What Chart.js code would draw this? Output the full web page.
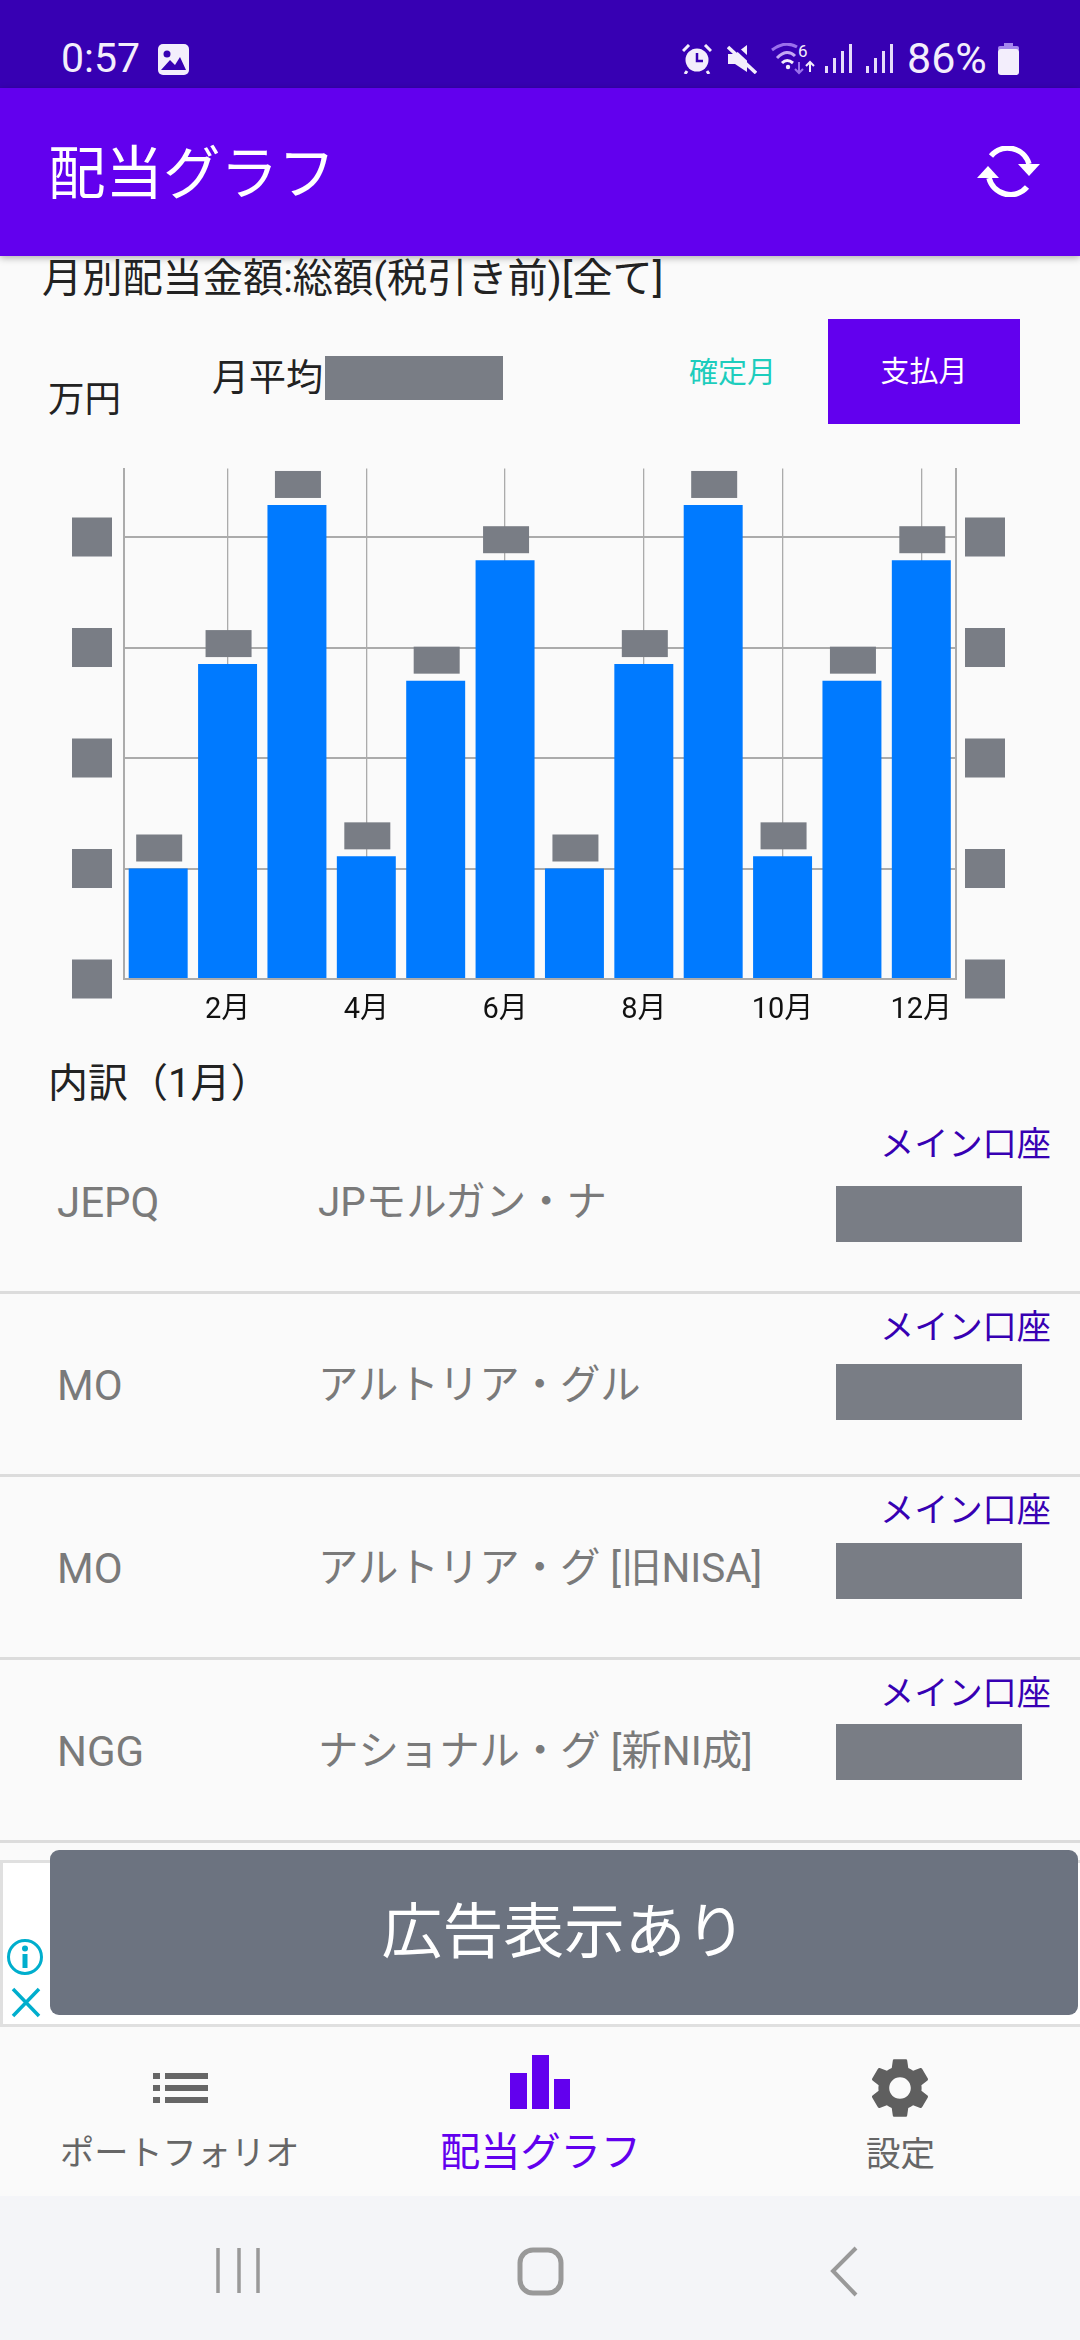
<!DOCTYPE html>
<html lang="ja">
<head>
<meta charset="utf-8">
<title>配当グラフ</title>
<script src="https://cdn.jsdelivr.net/npm/chart.js@4"></script>
<style>
html, body { margin: 0; padding: 0; }
body { width: 1080px; height: 2340px; background: #fafafa; position: relative; overflow: hidden;
       font-family: Roboto, "Noto Sans CJK JP", sans-serif; }
.abs { position: absolute; white-space: nowrap; }
.redact { position: absolute; background: #797d85; }
#status { left: 0; top: 0; width: 1080px; height: 88px; background: #3700b3; }
#appbar { left: 0; top: 88px; width: 1080px; height: 168px; background: #6200ee; box-shadow: 0 2px 7px rgba(0,0,0,.3); }
#row-list { position: absolute; left: 0; top: 1111px; width: 1080px; }
.row { position: relative; height: 180px; border-bottom: 3px solid #dcdcdc; }
.row .account { position: absolute; right: 29px; top: 13px; font-size: 34.2px; line-height: 40px; color: #3700b3; }
.row .ticker { position: absolute; left: 57px; top: 66px; font-size: 42px; line-height: 52px; color: #7a7a7a; }
.row .name { position: absolute; left: 318px; top: 66px; font-size: 40.4px; line-height: 52px; color: #7a7a7a; white-space: nowrap; }
.row .redact { left: 836px; width: 186px; height: 56px; }
.row:nth-child(1) .redact { top: 75px; }
.row:nth-child(2) .redact { top: 70px; }
.row:nth-child(3) .redact { top: 66px; height: 56px; }
.row:nth-child(4) .redact { top: 64px; height: 56px; }
#ad { left: 0; top: 1860px; width: 1077px; height: 161px; background: #fff; border: solid #e0e0e0; border-width: 3px 0 3px 3px; }
#ad-cover { left: 50px; top: 1850px; width: 1028px; height: 165px; background: #6c7380; border-radius: 9px;
            color: #fff; font-size: 60.8px; line-height: 165px; text-align: center; }
#bottom { left: 0; top: 2027px; width: 1080px; height: 169px; background: #fafafa; }
#nav { left: 0; top: 2196px; width: 1080px; height: 144px; background: #f4f5f8; }
svg { position: absolute; }
canvas { position: absolute; left: 40px; top: 450px; }
</style>
</head>
<body>
<div class="abs" id="status"></div>
<div class="abs" id="appbar"></div>

<div class="abs" style="left:61px;top:34px;font-size:41px;line-height:48px;color:#f3eefc">0:57</div>
<svg style="left:158px;top:44px" width="31" height="31" viewBox="0 0 31 31">
  <rect width="31" height="31" rx="5" fill="#f3eefc"/>
  <circle cx="9" cy="10" r="3.5" fill="#3700b3"/>
  <path d="M3 26 L12 16 L17 21 L22 13 L28 26 Z" fill="#3700b3"/>
</svg>
<!-- alarm -->
<svg style="left:682px;top:44px" width="30" height="30" viewBox="0 0 30 30">
  <circle cx="15" cy="16" r="11.5" fill="#f3eefc"/>
  <path d="M15 9 V17 H21" fill="none" stroke="#3700b3" stroke-width="2.5"/>
  <path d="M1 7 L7 1 M29 7 L23 1 M5 27 L3 30 M25 27 L27 30" stroke="#f3eefc" stroke-width="3"/>
</svg>
<!-- mute -->
<svg style="left:727px;top:44px" width="30" height="30" viewBox="0 0 30 30">
  <path d="M1 10 H8 L20 1 V28 L8 20 H1 Z" fill="#f3eefc"/>
  <path d="M5 0 L31 24" stroke="#3700b3" stroke-width="4"/>
  <path d="M1 3 L29 29" stroke="#f3eefc" stroke-width="3.5"/>
</svg>
<!-- wifi -->
<svg style="left:771px;top:43px" width="46" height="34" viewBox="0 0 46 34">
  <path d="M1 7 Q14 -3 26 4" fill="none" stroke="#9a70ec" stroke-width="3"/>
  <path d="M6 15 Q16 5 24 13" fill="none" stroke="#c3a8f4" stroke-width="3"/>
  <path d="M11 20 Q16 15 22 20" fill="none" stroke="#f3eefc" stroke-width="3"/>
  <circle cx="17" cy="24" r="2.2" fill="#f3eefc"/>
  <path d="M28 19 V30 M24 26 L28 30 L32 26" fill="none" stroke="#9a70ec" stroke-width="2"/>
  <path d="M39 29 V19 M35 23 L39 19 L43 23" fill="none" stroke="#f3eefc" stroke-width="2"/>
  <text x="27" y="14" font-size="17" font-family="Roboto" fill="#f3eefc">6</text>
</svg>
<!-- signal bars -->
<svg style="left:823px;top:44px" width="72" height="30" viewBox="0 0 72 30" fill="#e6dcfa">
  <rect x="2" y="22" width="3" height="7"/><rect x="10" y="14" width="3" height="15"/><rect x="18" y="7" width="3" height="22"/><rect x="26" y="0" width="3" height="29"/>
  <rect x="43" y="22" width="3" height="7"/><rect x="51" y="14" width="3" height="15"/><rect x="59" y="7" width="3" height="22"/><rect x="67" y="0" width="3" height="29"/>
</svg>
<div class="abs" style="left:907px;top:34px;font-size:43px;line-height:48px;color:#f3eefc">86%</div>
<svg style="left:998px;top:43px" width="21" height="32" viewBox="0 0 21 32">
  <rect x="6" y="0" width="9" height="5" fill="#a586ee"/>
  <rect x="0" y="3" width="21" height="5" rx="2" fill="#a586ee"/>
  <rect x="0" y="6" width="21" height="26" rx="3" fill="#f3eefc"/>
</svg>

<div class="abs" style="left:48px;top:137px;font-size:57.5px;line-height:76px;color:#fff">配当グラフ</div>
<!-- refresh -->
<svg style="left:977px;top:146px" width="64" height="51" viewBox="0 0 64 51">
  <path d="M14 10 A22 22 0 0 1 52 18" fill="none" stroke="#fff" stroke-width="5.5"/>
  <path d="M41 18 H63 L52 30 Z" fill="#fff"/>
  <path d="M50 41 A22 22 0 0 1 12 32" fill="none" stroke="#fff" stroke-width="5.5"/>
  <path d="M0 32 H22 L11 20 Z" fill="#fff"/>
</svg>

<div class="abs" style="left:42px;top:254px;font-size:40.2px;line-height:50px;color:#222">月別配当金額:総額(税引き前)[全て]</div>
<div class="abs" style="left:48px;top:376px;font-size:36.5px;line-height:48px;color:#222">万円</div>
<div class="abs" style="left:212px;top:355px;font-size:37px;line-height:48px;color:#222">月平均</div>
<div class="redact" style="left:325px;top:356px;width:178px;height:44px"></div>
<div class="abs" style="left:689px;top:354px;font-size:29px;line-height:38px;color:#1dcdbd">確定月</div>
<div class="abs" style="left:828px;top:319px;width:192px;height:105px;background:#6200ee;color:#fff;font-size:29px;line-height:107px;text-align:center">支払月</div>

<canvas id="dividend-chart" width="1000" height="590"></canvas>

<div class="abs" style="left:48px;top:1059px;font-size:40px;line-height:50px;color:#222">内訳（1月）</div>
<div id="row-list"></div>

<div class="abs" id="ad"></div>
<svg style="left:6px;top:1938px" width="38" height="80" viewBox="0 0 38 80">
  <circle cx="19" cy="19" r="16.5" fill="none" stroke="#00aecd" stroke-width="3"/>
  <rect x="16.5" y="16" width="5" height="14" fill="#00aecd"/>
  <circle cx="19" cy="10.5" r="3" fill="#00aecd"/>
  <path d="M7 51 L33 78 M33 51 L7 78" stroke="#00aecd" stroke-width="3.5"/>
</svg>
<div class="abs" id="ad-cover">広告表示あり</div>

<div class="abs" id="bottom"></div>
<div class="abs" id="nav"></div>
<svg style="left:153px;top:2073px" width="55" height="30" fill="#666">
  <rect x="0" y="0" width="7" height="6"/><rect x="12" y="0" width="43" height="6"/>
  <rect x="0" y="12" width="7" height="6"/><rect x="12" y="12" width="43" height="6"/>
  <rect x="0" y="24" width="7" height="6"/><rect x="12" y="24" width="43" height="6"/>
</svg>
<svg style="left:510px;top:2055px" width="60" height="54" fill="#6200ee">
  <rect x="0" y="18" width="17" height="36"/><rect x="22" y="0" width="17" height="54"/><rect x="44" y="24" width="16" height="30"/>
</svg>
<svg style="left:864px;top:2052px" width="72" height="72" viewBox="0 0 24 24" fill="#5f5f5f">
  <path d="M19.14 12.94c.04-.3.06-.61.06-.94 0-.32-.02-.64-.07-.94l2.03-1.58c.18-.14.23-.41.12-.61l-1.92-3.32c-.12-.22-.37-.29-.59-.22l-2.39.96c-.5-.38-1.03-.7-1.62-.94l-.36-2.54c-.04-.24-.24-.41-.48-.41h-3.84c-.24 0-.43.17-.47.41l-.36 2.54c-.59.24-1.13.57-1.62.94l-2.39-.96c-.22-.08-.47 0-.59.22L2.74 8.87c-.12.21-.08.47.12.61l2.03 1.58c-.05.3-.09.63-.09.94s.02.64.07.94l-2.03 1.58c-.18.14-.23.41-.12.61l1.92 3.32c.12.22.37.29.59.22l2.39-.96c.5.38 1.03.7 1.62.94l.36 2.54c.05.24.24.41.48.41h3.84c.24 0 .44-.17.47-.41l.36-2.54c.59-.24 1.13-.56 1.62-.94l2.39.96c.22.08.47 0 .59-.22l1.92-3.32c.12-.22.07-.47-.12-.61l-2.01-1.58zM12 15.6c-1.98 0-3.6-1.62-3.6-3.6s1.62-3.6 3.6-3.6 3.6 1.62 3.6 3.6-1.62 3.6-3.6 3.6z"/>
</svg>
<div class="abs" style="left:60px;top:2130px;font-size:34.2px;line-height:46px;color:#666">ポートフォリオ</div>
<div class="abs" style="left:440px;top:2128px;font-size:40.2px;line-height:50px;color:#6200ee">配当グラフ</div>
<div class="abs" style="left:866px;top:2131px;font-size:34.5px;line-height:46px;color:#666">設定</div>

<svg style="left:210px;top:2240px" width="660" height="64" fill="none" stroke="#999">
  <path d="M8 8 V53 M29 8 V53 M48 8 V53" stroke-width="3.5"/>
  <rect x="310" y="10" width="41" height="43" rx="13" stroke-width="5"/>
  <path d="M646 8 L623 31 L646 55" stroke-width="4"/>
</svg>

<script>
const months = ['1月', '2月', '3月', '4月', '5月', '6月', '7月', '8月', '9月', '10月', '11月', '12月'];
// amounts are masked in the picture, so values are in grid steps
const dividends = [1.0, 2.85, 4.29, 1.11, 2.7, 3.79, 1.0, 2.85, 4.29, 1.11, 2.7, 3.79];
const yTicks = [0, 1, 2, 3, 4];
const yMax = 4.62;

const tickers = ['JEPQ', 'MO', 'MO', 'NGG'];
const names = ['JPモルガン・ナ', 'アルトリア・グル', 'アルトリア・グ [旧NISA]', 'ナショナル・グ [新NI成]'];

const gridColor = '#ababab';
const maskColor = '#797d85';

// list rows under the chart
const rowList = document.getElementById('row-list');
tickers.forEach((ticker, i) => {
    const row = document.createElement('div');
    row.className = 'row';
    row.innerHTML = '<div class="account">メイン口座</div>' +
        '<div class="ticker">' + ticker + '</div>' +
        '<div class="name">' + names[i] + '</div>' +
        '<div class="redact"></div>';
    rowList.appendChild(row);
});

// grey boxes over the masked axis labels and bar values
const maskPlugin = {
    id: 'masks',
    afterDatasetsDraw(chart) {
        const ctx = chart.ctx;
        ctx.save();
        ctx.fillStyle = maskColor;
        yTicks.forEach((v) => {
            const y = chart.scales.y.getPixelForValue(v);
            ctx.fillRect(32, y - 19.5, 40, 39);
            ctx.fillRect(925, y - 19.5, 40, 39);
        });
        chart.getDatasetMeta(0).data.forEach((bar) => {
            ctx.fillRect(bar.x - 22, bar.y - 34, 46, 27);
        });
        ctx.restore();
    }
};

new Chart(document.getElementById('dividend-chart'), {
    type: 'bar',
    data: {
        labels: months,
        datasets: [{
            data: dividends,
            backgroundColor: '#007aff',
            barPercentage: 0.85,
            categoryPercentage: 1,
        }]
    },
    options: {
        responsive: false,
        animation: false,
        layout: { padding: { top: 18.5 } },
        plugins: { legend: { display: false }, tooltip: { enabled: false } },
        scales: {
            x: {
                grid: {
                    offset: false,
                    drawTicks: false,
                    lineWidth: 1.3,
                    color: (c) => c.index % 2 ? gridColor : 'rgba(0,0,0,0)',
                },
                border: { color: gridColor, width: 2 },
                ticks: {
                    autoSkip: false,
                    maxRotation: 0,
                    padding: 14,
                    color: '#111',
                    font: { family: 'Roboto, "Noto Sans CJK JP"', size: 29 },
                    callback(value, index) {
                        return index % 2 ? months[index] : '';
                    },
                },
                afterFit(scale) { scale.height = 61; },
            },
            y: {
                min: 0,
                max: yMax,
                afterBuildTicks(scale) { scale.ticks = yTicks.map((value) => ({ value })); },
                grid: { drawTicks: false, lineWidth: 2, color: gridColor },
                border: { color: gridColor, width: 2 },
                ticks: { display: false },
                afterFit(scale) { scale.width = 83.5; },
            },
            y2: {
                position: 'right',
                min: 0,
                max: yMax,
                grid: { display: false },
                border: { color: gridColor, width: 2 },
                ticks: { display: false },
                afterFit(scale) { scale.width = 84; },
            },
        },
    },
    plugins: [maskPlugin],
});
</script>
</body>
</html>
